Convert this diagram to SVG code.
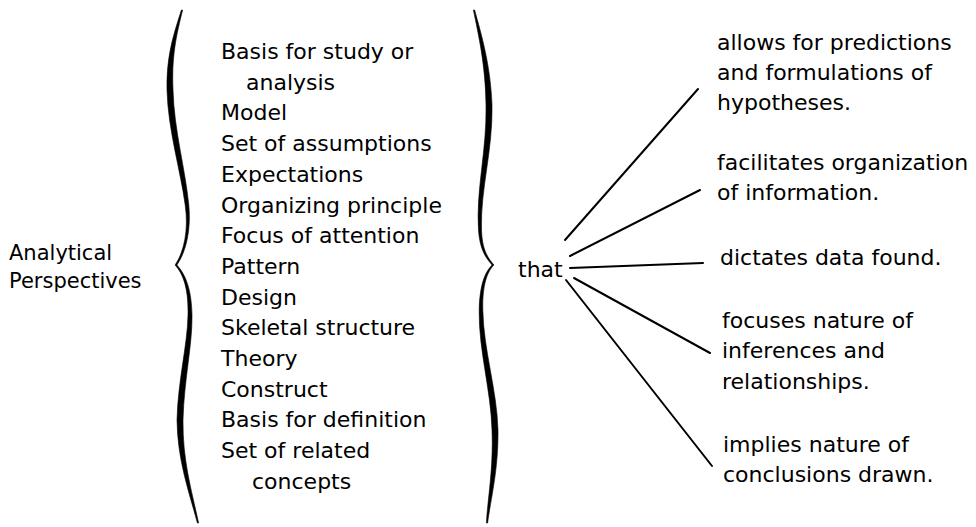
<svg xmlns="http://www.w3.org/2000/svg" width="976" height="527" viewBox="0 0 976 527">
<style>
  text { font-family: "DejaVu Sans", "Liberation Sans", sans-serif; fill: #000; }
  .lbl { font-size: 21px; }
  .item { font-size: 22px; }
  .res { font-size: 22px; }
  .brace { fill: #000; stroke: #000; stroke-width: 0.6; stroke-linejoin: round; }
  .conn line { stroke: #000; stroke-width: 2; stroke-linecap: round; }
</style>

<g id="analytical-perspectives">
  <text class="lbl" x="9" y="260">Analytical</text>
  <text class="lbl" x="9" y="288">Perspectives</text>
</g>

<g id="left-brace">
  <path class="brace" d="M181.4,10 C173.5,35 166.5,55 167,90 C168,130 180.5,170 185.2,205 C188.8,230 184,252 175.1,265 C184,275 188.5,290 188,315 C187.5,345 178,380 177,420 C177.5,460 188.5,490 197.4,523 L198.6,523 C191.5,490 182.5,460 183,420 C184,380 192.5,345 192,315 C191.5,290 186,275 176.9,265 C186,252 191.2,230 188.8,205 C185.5,170 174,130 173,90 C171.5,55 176.5,35 182.6,10 Z"/>
</g>

<g id="list">
  <text class="item" x="221" y="59">Basis for study or</text>
  <text class="item" x="246" y="89.7">analysis</text>
  <text class="item" x="221" y="120.4">Model</text>
  <text class="item" x="221" y="151.1">Set of assumptions</text>
  <text class="item" x="221" y="181.8">Expectations</text>
  <text class="item" x="221" y="212.5">Organizing principle</text>
  <text class="item" x="221" y="243.2">Focus of attention</text>
  <text class="item" x="221" y="273.9">Pattern</text>
  <text class="item" x="221" y="304.6">Design</text>
  <text class="item" x="221" y="335.3">Skeletal structure</text>
  <text class="item" x="221" y="366">Theory</text>
  <text class="item" x="221" y="396.7">Construct</text>
  <text class="item" x="221" y="427.4">Basis for definition</text>
  <text class="item" x="221" y="458.1">Set of related</text>
  <text class="item" x="252" y="488.8">concepts</text>
</g>

<g id="right-brace">
  <path class="brace" d="M473.4,10 C478.5,35 485.5,65 486,105 C487,150 475.8,190 478.5,230 C479.9,250 486,258 492.1,265 C485,272 479.7,285 479.2,310 C478.5,350 491,390 492,430 C493.5,470 487.5,500 486.4,523 L487.6,523 C490.5,500 498.5,470 498,430 C497,390 483.5,350 482.8,310 C482.3,285 487,272 493.9,265 C488,258 482.1,250 481.5,230 C480.2,190 493,150 492,105 C490.5,65 481.5,35 474.6,10 Z"/>
</g>

<g id="that">
  <text class="res" x="518" y="277">that</text>
</g>

<g id="connectors" class="conn">
  <line x1="565" y1="240" x2="698" y2="89"/>
  <line x1="570" y1="256" x2="700" y2="190"/>
  <line x1="570" y1="268" x2="703" y2="263"/>
  <line x1="574" y1="278" x2="710" y2="353"/>
  <line x1="566" y1="280" x2="712" y2="466"/>
</g>

<g id="result-predictions">
  <text class="res" x="717" y="50">allows for predictions</text>
  <text class="res" x="717" y="80">and formulations of</text>
  <text class="res" x="717" y="110">hypotheses.</text>
</g>
<g id="result-organization">
  <text class="res" x="717" y="170">facilitates organization</text>
  <text class="res" x="717" y="200">of information.</text>
</g>
<g id="result-data">
  <text class="res" x="720" y="265">dictates data found.</text>
</g>
<g id="result-inferences">
  <text class="res" x="722" y="328">focuses nature of</text>
  <text class="res" x="722" y="358">inferences and</text>
  <text class="res" x="722" y="389">relationships.</text>
</g>
<g id="result-conclusions">
  <text class="res" x="723" y="452">implies nature of</text>
  <text class="res" x="723" y="482">conclusions drawn.</text>
</g>
</svg>
